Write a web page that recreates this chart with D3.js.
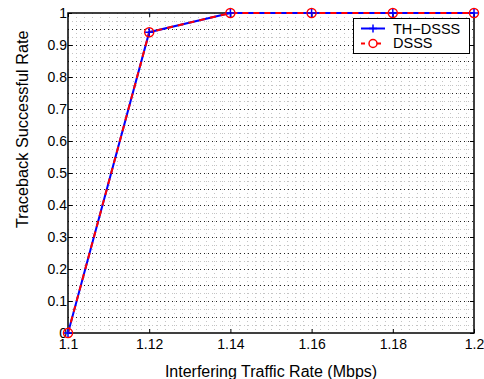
<!DOCTYPE html>
<html>
<head>
<meta charset="utf-8">
<script src="https://cdn.jsdelivr.net/npm/d3@7"></script>
<style>
  body { margin: 0; background: #fff; }
  text { font-family: "Liberation Sans", Arial, sans-serif; fill: #000; }
</style>
</head>
<body>
<svg id="chart" width="484" height="379"></svg>
<script>
const rates = [1.1, 1.12, 1.14, 1.16, 1.18, 1.2];
const thDsss = [0, 0.94, 1, 1, 1, 1];
const dsss = [0, 0.94, 1, 1, 1, 1];
const xTicks = [1.1, 1.12, 1.14, 1.16, 1.18, 1.2];
const yTicks = [0, 0.1, 0.2, 0.3, 0.4, 0.5, 0.6, 0.7, 0.8, 0.9, 1];

const svg = d3.select('#chart');
const plotL = 68, plotR = 474, plotT = 13, plotB = 333;
const font = '"Liberation Sans", Arial, sans-serif';

const x = d3.scaleLinear().domain([1.1, 1.2]).range([plotL, plotR]);
const y = d3.scaleLinear().domain([0, 1]).range([plotB, plotT]);

// grid
const grid = svg.append('g');
d3.range(2, 100, 2).map((i) => 1.1 + i * 0.001).forEach((v) => {
  const xp = Math.round(x(v)) + 0.5;
  grid.append('line')
    .attr('x1', xp).attr('x2', xp).attr('y1', plotT).attr('y2', plotB)
    .attr('stroke', '#c4c4c4').attr('stroke-width', 1).attr('stroke-dasharray', '1,3');
});
d3.range(1, 40).forEach((i) => {
  const v = i * 0.025;
  const dark = i % 2 === 0;
  const yp = Math.round(y(v)) + 0.5;
  grid.append('line')
    .attr('x1', plotL).attr('x2', plotR).attr('y1', yp).attr('y2', yp)
    .attr('stroke', dark ? '#222' : '#c4c4c4').attr('stroke-width', 1)
    .attr('stroke-dasharray', '1,3');
});

// axes
svg.append('g')
  .attr('transform', `translate(0,${plotB})`)
  .call(d3.axisBottom(x).tickValues(xTicks).tickSize(-4).tickPadding(6).tickFormat(d3.format('')))
  .call((g) => g.select('.domain').remove())
  .call((g) => g.selectAll('text').attr('font-size', 14).attr('font-family', font));
svg.append('g')
  .attr('transform', `translate(0,${plotT})`)
  .call(d3.axisTop(x).tickValues(xTicks).tickSize(-4).tickFormat(''))
  .call((g) => g.select('.domain').remove());
svg.append('g')
  .attr('transform', `translate(${plotL},0)`)
  .call(d3.axisLeft(y).tickValues(yTicks).tickSize(-4).tickPadding(1).tickFormat(d3.format('')))
  .call((g) => g.select('.domain').remove())
  .call((g) => g.selectAll('text').attr('font-size', 14).attr('font-family', font));
svg.append('g')
  .attr('transform', `translate(${plotR},0)`)
  .call(d3.axisRight(y).tickValues(yTicks).tickSize(-4).tickFormat(''))
  .call((g) => g.select('.domain').remove());

svg.append('rect')
  .attr('x', plotL).attr('y', plotT).attr('width', plotR - plotL).attr('height', plotB - plotT)
  .attr('fill', 'none').attr('stroke', '#000').attr('stroke-width', 1.5);

// lines
const line = (vals) => d3.line().x((d, i) => x(rates[i])).y((d) => y(d))(vals);
svg.append('path').attr('d', line(thDsss))
  .attr('fill', 'none').attr('stroke', '#0000ff').attr('stroke-width', 2);
svg.append('path').attr('d', line(dsss))
  .attr('fill', 'none').attr('stroke', '#ff0000').attr('stroke-width', 2).attr('stroke-dasharray', '6,5');

svg.append('g').selectAll('circle').data(dsss).enter().append('circle')
  .attr('cx', (d, i) => x(rates[i])).attr('cy', (d) => y(d)).attr('r', 4.5)
  .attr('fill', 'none').attr('stroke', '#ff0000').attr('stroke-width', 1.5);
svg.append('g').selectAll('path').data(thDsss).enter().append('path')
  .attr('d', (d, i) => `M${x(rates[i]) - 4},${y(d)}h8M${x(rates[i])},${y(d) - 4}v8`)
  .attr('stroke', '#0000ff').attr('stroke-width', 1.5);

// legend
const lg = svg.append('g');
lg.append('rect').attr('x', 353.5).attr('y', 18.5).attr('width', 116).attr('height', 35)
  .attr('fill', '#fff').attr('stroke', '#000').attr('stroke-width', 1);
lg.append('line').attr('x1', 361).attr('x2', 385).attr('y1', 28.5).attr('y2', 28.5)
  .attr('stroke', '#0000ff').attr('stroke-width', 2);
lg.append('path').attr('d', 'M369,28.5h8M373,24.5v8').attr('stroke', '#0000ff').attr('stroke-width', 1.5);
lg.append('line').attr('x1', 361).attr('x2', 385).attr('y1', 43.5).attr('y2', 43.5)
  .attr('stroke', '#ff0000').attr('stroke-width', 2).attr('stroke-dasharray', '4,4');
lg.append('circle').attr('cx', 373).attr('cy', 43.5).attr('r', 4)
  .attr('fill', '#fff').attr('stroke', '#ff0000').attr('stroke-width', 1.5);
lg.append('text').attr('x', 393).attr('y', 33.5).attr('font-size', 14.5).text('TH\u2212DSSS');
lg.append('text').attr('x', 393).attr('y', 48).attr('font-size', 14.5).text('DSSS');

// axis titles
svg.append('text').attr('x', (plotL + plotR) / 2).attr('y', 377).attr('text-anchor', 'middle')
  .attr('font-size', 16).text('Interfering Traffic Rate (Mbps)');
svg.append('text').attr('transform', 'translate(28,228) rotate(-90)')
  .attr('text-anchor', 'start').attr('font-size', 16.3).text('Traceback Successful Rate');
</script>
</body>
</html>
